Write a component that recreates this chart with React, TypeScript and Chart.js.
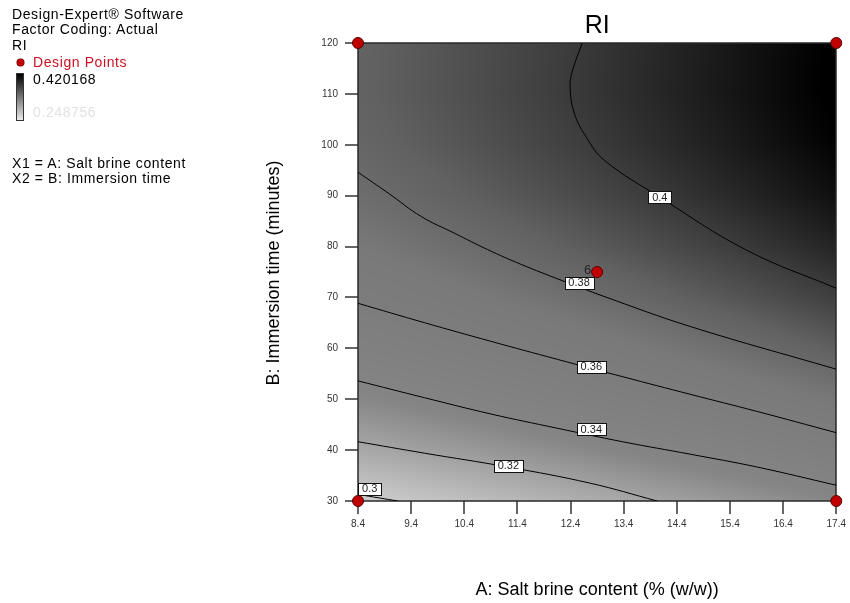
import React, { useEffect, useRef } from "react";
import { Chart, registerables } from "chart.js";

Chart.register(...registerables);

// ---------- DATA ----------
// Factor A: salt brine content (% w/w) — x ticks and surface grid columns
const saltBrine = [8.4, 9.4, 10.4, 11.4, 12.4, 13.4, 14.4, 15.4, 16.4, 17.4];
// Factor B: immersion time (minutes) — y ticks and surface grid rows
const immersionTime = [30, 40, 50, 60, 70, 80, 90, 100, 110, 120];

// RI response at each (immersionTime row, saltBrine column)
const riSurface = [
  [0.2967, 0.3005, 0.3044, 0.3084, 0.3124, 0.3166, 0.3209, 0.3252, 0.3297, 0.3342],
  [0.3164, 0.3202, 0.3241, 0.3281, 0.3321, 0.3363, 0.3406, 0.3449, 0.3494, 0.3539],
  [0.3337, 0.3375, 0.3414, 0.3454, 0.3494, 0.3536, 0.3579, 0.3622, 0.3667, 0.3712],
  [0.3484, 0.3522, 0.3561, 0.3601, 0.3641, 0.3683, 0.3726, 0.3769, 0.3814, 0.3859],
  [0.3606, 0.3644, 0.3683, 0.3723, 0.3763, 0.3805, 0.3848, 0.3891, 0.3936, 0.3981],
  [0.3702, 0.374, 0.3779, 0.3819, 0.3859, 0.3901, 0.3944, 0.3987, 0.4032, 0.4077],
  [0.3774, 0.3812, 0.3851, 0.3891, 0.3931, 0.3973, 0.4016, 0.4059, 0.4104, 0.4149],
  [0.382, 0.3858, 0.3897, 0.3937, 0.3977, 0.4019, 0.4062, 0.4105, 0.415, 0.4195],
  [0.3841, 0.3879, 0.3918, 0.3958, 0.3998, 0.404, 0.4083, 0.4126, 0.4171, 0.4216],
  [0.3837, 0.3875, 0.3914, 0.3954, 0.3994, 0.4036, 0.4079, 0.4122, 0.4167, 0.4212],
];

// Design points (A, B)
const designPoints = [
  { x: 8.4, y: 30 },
  { x: 17.4, y: 30 },
  { x: 8.4, y: 120 },
  { x: 17.4, y: 120 },
  { x: 12.9, y: 75 },
];
const centerReplicates = "6";

// Contour levels and their traced lines (A, B)
const contourLevels = [0.3, 0.32, 0.34, 0.36, 0.38, 0.4];
const contourLabels = ["0.3", "0.32", "0.34", "0.36", "0.38", "0.4"];

const contour030 = [
  { x: 8.4, y: 31.3 },
  { x: 8.8, y: 30.6 },
  { x: 9.15, y: 30 },
];
const contour032 = [
  { x: 8.4, y: 41.65 },
  { x: 9.65, y: 39.4 },
  { x: 11.21, y: 36.7 },
  { x: 12.77, y: 33.5 },
  { x: 14.03, y: 30 },
];
const contour034 = [
  { x: 8.4, y: 53.6 },
  { x: 9.65, y: 50.3 },
  { x: 10.9, y: 47.1 },
  { x: 12.15, y: 44.3 },
  { x: 13.4, y: 41.6 },
  { x: 14.65, y: 39.2 },
  { x: 15.9, y: 36.7 },
  { x: 17.4, y: 33.1 },
];
const contour036 = [
  { x: 8.4, y: 68.85 },
  { x: 9.65, y: 65.04 },
  { x: 10.9, y: 61.38 },
  { x: 12.15, y: 57.84 },
  { x: 13.4, y: 54.37 },
  { x: 14.65, y: 50.97 },
  { x: 15.9, y: 47.63 },
  { x: 17.4, y: 43.42 },
];
const contour038 = [
  { x: 8.4, y: 94.6 },
  { x: 8.97, y: 90.5 },
  { x: 9.59, y: 85.9 },
  { x: 10.22, y: 82.6 },
  { x: 10.84, y: 79.4 },
  { x: 11.47, y: 76.5 },
  { x: 12.22, y: 73.4 },
  { x: 13.03, y: 70.2 },
  { x: 14.65, y: 64.3 },
  { x: 17.4, y: 55.9 },
];
const contour040 = [
  { x: 12.62, y: 120 },
  { x: 12.44, y: 114.7 },
  { x: 12.39, y: 111.4 },
  { x: 12.47, y: 106.2 },
  { x: 12.69, y: 101.6 },
  { x: 13.03, y: 97.0 },
  { x: 14.08, y: 89.7 },
  { x: 15.71, y: 79.3 },
  { x: 17.4, y: 71.8 },
];
const contourLines = [contour030, contour032, contour034, contour036, contour038, contour040];

// Where each contour's value label sits (A, B)
const contourLabelAnchors = [
  { x: 8.62, y: 32.4 },
  { x: 11.23, y: 36.9 },
  { x: 12.79, y: 44.1 },
  { x: 12.79, y: 56.4 },
  { x: 12.56, y: 72.9 },
  { x: 14.08, y: 89.7 },
];

const riLegendMax = "0.420168";
const riLegendMin = "0.248756";

// ---------- STYLE ----------
const FONT = "Arial, 'Liberation Sans', sans-serif";
// value -> gray level of Design-Expert's grayscale map
const GRAY_STOPS: [number, number][] = [
  [0.2488, 232],
  [0.3, 200],
  [0.32, 162],
  [0.335, 133],
  [0.37, 121],
  [0.385, 97],
  [0.4, 58],
  [0.4202, 0],
];

function grayFor(v: number): number {
  if (v <= GRAY_STOPS[0][0]) return GRAY_STOPS[0][1];
  for (let i = 0; i < GRAY_STOPS.length - 1; i++) {
    const [v0, g0] = GRAY_STOPS[i];
    const [v1, g1] = GRAY_STOPS[i + 1];
    if (v <= v1) return g0 + ((v - v0) / (v1 - v0)) * (g1 - g0);
  }
  return GRAY_STOPS[GRAY_STOPS.length - 1][1];
}

function locate(arr: number[], v: number): [number, number] {
  const n = arr.length;
  if (v <= arr[0]) return [0, 0];
  if (v >= arr[n - 1]) return [n - 2, 1];
  for (let i = 0; i < n - 1; i++) {
    if (v <= arr[i + 1]) return [i, (v - arr[i]) / (arr[i + 1] - arr[i])];
  }
  return [n - 2, 1];
}

const shadingPlugin = {
  id: "riShading",
  beforeDatasetsDraw(chart: any) {
    const { ctx } = chart;
    const xs = chart.scales.x;
    const ys = chart.scales.y;
    const left = Math.round(xs.getPixelForValue(saltBrine[0]));
    const right = Math.round(xs.getPixelForValue(saltBrine[saltBrine.length - 1]));
    const top = Math.round(ys.getPixelForValue(immersionTime[immersionTime.length - 1]));
    const bottom = Math.round(ys.getPixelForValue(immersionTime[0]));
    const w = right - left;
    const h = bottom - top;
    const img = ctx.createImageData(w, h);
    for (let py = 0; py < h; py++) {
      const B = ys.getValueForPixel(top + py + 0.5);
      const [ri, rt] = locate(immersionTime, B);
      for (let px = 0; px < w; px++) {
        const A = xs.getValueForPixel(left + px + 0.5);
        const [ci, ct] = locate(saltBrine, A);
        const v00 = riSurface[ri][ci];
        const v01 = riSurface[ri][ci + 1];
        const v10 = riSurface[ri + 1][ci];
        const v11 = riSurface[ri + 1][ci + 1];
        const v = (v00 * (1 - ct) + v01 * ct) * (1 - rt) + (v10 * (1 - ct) + v11 * ct) * rt;
        const g = Math.round(grayFor(v));
        const k = (py * w + px) * 4;
        img.data[k] = g;
        img.data[k + 1] = g;
        img.data[k + 2] = g;
        img.data[k + 3] = 255;
      }
    }
    ctx.putImageData(img, left, top);
    ctx.save();
    ctx.strokeStyle = "#2a2a2a";
    ctx.lineWidth = 1.5;
    ctx.strokeRect(left, top, w, h);
    ctx.restore();
  },
  beforeDatasetDraw(chart: any, args: any) {
    if (args.index !== 0) return;
    const { ctx } = chart;
    const xs = chart.scales.x;
    const ys = chart.scales.y;
    ctx.save();
    ctx.font = `11px ${FONT}`;
    ctx.textAlign = "center";
    ctx.textBaseline = "middle";
    contourLabelAnchors.forEach((p, i) => {
      const cx = xs.getPixelForValue(p.x);
      const cy = ys.getPixelForValue(p.y);
      const text = contourLabels[i];
      const tw = ctx.measureText(text).width;
      const bw = Math.round(tw + 8);
      const bh = 12;
      const bx = Math.round(cx - bw / 2) + 0.5;
      const by = Math.round(cy - bh / 2) + 0.5;
      ctx.fillStyle = "#ffffff";
      ctx.fillRect(bx, by, bw, bh);
      ctx.strokeStyle = "#111";
      ctx.lineWidth = 1;
      ctx.strokeRect(bx, by, bw, bh);
      ctx.fillStyle = "#222";
      ctx.fillText(text, cx, cy + 0.5);
    });
    // replicate count next to the centre point
    const c = designPoints[4];
    ctx.font = `13px ${FONT}`;
    ctx.fillStyle = "#262626";
    ctx.textAlign = "right";
    ctx.fillText(centerReplicates, xs.getPixelForValue(c.x) - 6, ys.getPixelForValue(c.y) - 2);
    ctx.restore();
  },
  afterDraw(chart: any) {
    const { ctx, chartArea } = chart;
    const cx = (chartArea.left + chartArea.right) / 2;
    const cy = (chartArea.top + chartArea.bottom) / 2;
    ctx.save();
    ctx.fillStyle = "#000";
    ctx.textAlign = "center";
    ctx.textBaseline = "alphabetic";
    ctx.font = `25px ${FONT}`;
    ctx.fillText("RI", cx, 33);
    ctx.font = `18px ${FONT}`;
    ctx.fillText("A: Salt brine content (% (w/w))", cx, 595);
    ctx.translate(279, cy + 1);
    ctx.rotate(-Math.PI / 2);
    ctx.fillText("B: Immersion time (minutes)", 0, 0);
    ctx.restore();
  },
};

export default function App() {
  const ref = useRef<HTMLCanvasElement>(null);
  useEffect(() => {
    document.body.style.margin = "0";
    const canvas = ref.current!;
    const datasets: any[] = [
      {
        type: "scatter",
        label: "Design Points",
        data: designPoints,
        pointRadius: 5.5,
        pointBackgroundColor: "#c00000",
        pointBorderColor: "#5a0000",
        pointBorderWidth: 1,
        clip: false,
      },
      ...contourLines.map((line, i) => ({
        type: "line",
        label: String(contourLevels[i]),
        data: line,
        borderColor: "#000",
        borderWidth: 1,
        pointRadius: 0,
        tension: 0.4,
        fill: false,
      })),
    ];
    const chart = new Chart(canvas, {
      type: "scatter",
      data: { datasets },
      plugins: [shadingPlugin],
      options: {
        responsive: false,
        animation: false,
        devicePixelRatio: 1,
        layout: { padding: { left: 0, right: 12, top: 43, bottom: 0 } },
        plugins: {
          legend: { display: false },
          tooltip: { enabled: false },
          title: { display: false },
        },
        scales: {
          x: {
            type: "linear",
            min: saltBrine[0],
            max: saltBrine[saltBrine.length - 1],
            afterBuildTicks: (s: any) => {
              s.ticks = saltBrine.map((v) => ({ value: v }));
            },
            afterFit: (s: any) => {
              s.height = 102;
            },
            ticks: {
              autoSkip: false,
              maxRotation: 0,
              padding: 4,
              color: "#333",
              font: { size: 10, family: FONT },
              callback: (v: any) => Number(v).toFixed(1),
            },
            grid: {
              drawOnChartArea: false,
              drawTicks: true,
              tickLength: 13,
              color: "#666",
              lineWidth: 2,
            },
            border: { display: false },
          },
          y: {
            type: "linear",
            min: immersionTime[0],
            max: immersionTime[immersionTime.length - 1],
            afterBuildTicks: (s: any) => {
              s.ticks = immersionTime.map((v) => ({ value: v }));
            },
            afterFit: (s: any) => {
              s.width = 358;
            },
            ticks: {
              autoSkip: false,
              padding: 7,
              color: "#333",
              font: { size: 10, family: FONT },
              callback: (v: any) => String(v),
            },
            grid: {
              drawOnChartArea: false,
              drawTicks: true,
              tickLength: 13,
              color: "#666",
              lineWidth: 2,
            },
            border: { display: false },
          },
        },
      } as any,
    } as any);
    return () => chart.destroy();
  }, []);

  const txt: React.CSSProperties = {
    position: "absolute",
    fontSize: 14,
    lineHeight: "16px",
    letterSpacing: "0.6px",
    whiteSpace: "nowrap",
    color: "#000",
  };

  return (
    <div
      style={{
        position: "relative",
        width: 850,
        height: 603,
        background: "#fff",
        fontFamily: FONT,
        overflow: "hidden",
      }}
    >
      <canvas
        ref={ref}
        width={850}
        height={603}
        style={{ position: "absolute", left: 0, top: 0, width: 850, height: 603 }}
      />
      <div style={{ ...txt, left: 12, top: 6 }}>Design-Expert® Software</div>
      <div style={{ ...txt, left: 12, top: 21 }}>Factor Coding: Actual</div>
      <div style={{ ...txt, left: 12, top: 37 }}>RI</div>
      <div
        style={{
          position: "absolute",
          left: 17,
          top: 59,
          width: 7,
          height: 7,
          borderRadius: "50%",
          background: "#c00000",
          boxShadow: "0 0 0 0.5px #600",
        }}
      />
      <div style={{ ...txt, left: 33, top: 54, color: "#cc1020" }}>Design Points</div>
      <div
        style={{
          position: "absolute",
          left: 16,
          top: 73,
          width: 8,
          height: 48,
          boxSizing: "border-box",
          border: "1px solid #333",
          background: "linear-gradient(#000000, #ececec)",
        }}
      />
      <div style={{ ...txt, left: 33, top: 71 }}>{riLegendMax}</div>
      <div style={{ ...txt, left: 33, top: 104, color: "#e2e2e2" }}>{riLegendMin}</div>
      <div style={{ ...txt, left: 12, top: 155 }}>X1 = A: Salt brine content</div>
      <div style={{ ...txt, left: 12, top: 170 }}>X2 = B: Immersion time</div>
    </div>
  );
}
